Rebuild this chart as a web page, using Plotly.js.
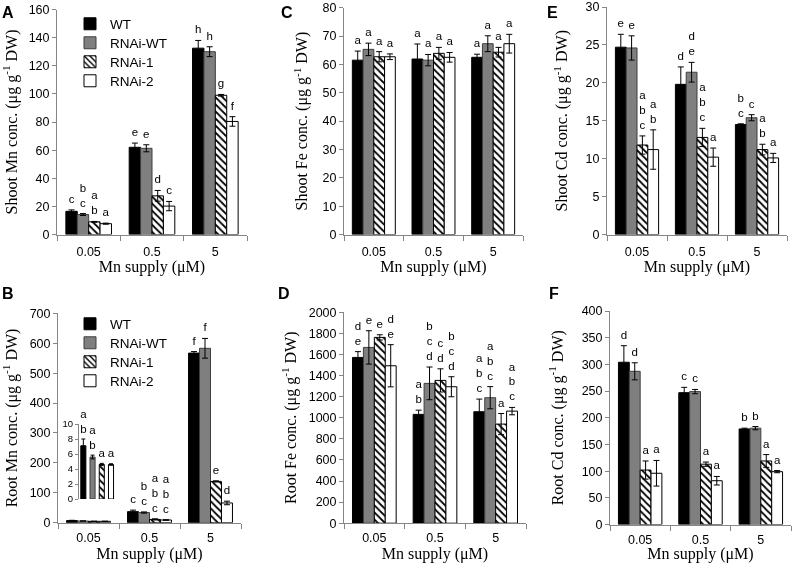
<!DOCTYPE html>
<html>
<head>
<meta charset="utf-8">
<script src="https://cdn.plot.ly/plotly-3.0.1.min.js"></script>
<style>html,body{margin:0;padding:0;background:#fff}#chart{width:793px;height:563px;filter:grayscale(100%)}</style>
</head>
<body>
<div id="chart"></div>
<script>
// ---------------- DATA ----------------
const supply = ['0.05', '0.5', '5'];            // Mn supply (µM)
const genotypes = ['WT', 'RNAi-WT', 'RNAi-1', 'RNAi-2'];

// A  Shoot Mn  (rows = genotypes, columns = supply)
const shootMnMean = [[16.5, 62.0, 132.5], [14.2, 61.3, 130.0], [9.0, 27.5, 99.0], [7.7, 20.2, 80.4]];
const shootMnErr  = [[1.0, 3.0, 5.5], [0.7, 2.5, 3.5], [0.3, 3.8, 0.6], [0.4, 3.3, 3.4]];
const shootMnSig  = [['c', 'e', 'h'], ['b<br>c', 'e', 'h'], ['a<br>b', 'd', 'g'], ['a', 'c', 'f']];

// B  Root Mn
const rootMnMean = [[7.1, 37, 567], [5.6, 34, 583], [4.6, 11, 138], [4.6, 9, 66]];
const rootMnErr  = [[0.9, 5, 5], [0.25, 2, 33], [0.15, 2, 2], [0.1, 1, 6]];
const rootMnSig  = [['a<br>b', 'c', 'f'], ['a<br>b', 'b<br>c', 'f'], ['a', 'a<br>b<br>c', 'e'], ['a', 'a<br>b<br>c', 'd']];

// C  Shoot Fe
const shootFeMean = [[61.5, 61.9, 62.5], [65.3, 61.5, 67.3], [62.7, 63.9, 64.3], [62.7, 62.5, 67.3]];
const shootFeErr  = [[3.2, 5.3, 1.1], [2.2, 2.0, 2.8], [1.8, 2.1, 1.7], [1.0, 1.7, 3.3]];
const shootFeSig  = [['a', 'a', 'a'], ['a', 'a', 'a'], ['a', 'a', 'a'], ['a', 'a', 'a']];

// D  Root Fe
const rootFeMean = [[1572, 1032, 1057], [1667, 1326, 1190], [1762, 1354, 940], [1493, 1294, 1063]];
const rootFeErr  = [[55, 40, 120], [158, 155, 105], [25, 110, 100], [200, 95, 35]];
const rootFeSig  = [['d<br>e', 'a<br>b', 'a<br>b<br>c'], ['e', 'b<br>c<br>d', 'a<br>b<br>c'], ['e', 'c<br>d', 'a'], ['d<br>e', 'b<br>c<br>d', 'a<br>b<br>c']];

// E  Shoot Cd
const shootCdMean = [[24.7, 19.8, 14.5], [24.6, 21.4, 15.4], [11.8, 12.8, 11.2], [11.2, 10.2, 10.1]];
const shootCdErr  = [[1.7, 2.3, 0.1], [1.6, 1.3, 0.4], [1.2, 1.2, 0.7], [2.6, 1.2, 0.6]];
const shootCdSig  = [['e', 'd', 'b<br>c'], ['e', 'd<br>e', 'c'], ['a<br>b<br>c', 'a<br>b<br>c', 'a<br>b'], ['a<br>b', 'a', 'a']];

// F  Root Cd
const rootCdMean = [[304, 247, 179], [287, 249, 180.5], [102, 113, 119], [96, 82, 99]];
const rootCdErr  = [[31, 10, 1.5], [16, 4, 3], [17, 4, 12], [24, 8, 2]];
const rootCdSig  = [['d', 'c', 'b'], ['d', 'c', 'b'], ['a', 'a', 'a'], ['a', 'a', 'a']];

// ---------------- STYLE / LAYOUT ----------------
const W = 793, H = 563;
const SANS = 'Liberation Sans, Arial, sans-serif';
const SERIF = 'Liberation Serif, Times New Roman, serif';
const AXC = '#868686';
const barFill = ['#000000', '#7f7f7f', '#ffffff', '#ffffff'];
const barLine = ['#000000', '#3f3f3f', '#000000', '#000000'];
const BW = 0.18;

const xd = (a, b) => [a / W, b / W];
const yd = (top, bot) => [1 - bot / H, 1 - top / H];

const panels = [
  {n: 1, lab: 'A', mean: shootMnMean, err: shootMnErr, sig: shootMnSig, x: [57, 247], y: [9.5, 234.5], range: [0, 160], dtick: 20, title: 'Shoot Mn conc. (μg g<sup>-1</sup> DW)', legendRows: [24, 43, 62, 81], legendBase: 1, skipFirst: false, so: 8},
  {n: 2, lab: 'C', mean: shootFeMean, err: shootFeErr, sig: shootFeSig, x: [344, 523], y: [7.7, 234.5], range: [0, 80], dtick: 10, title: 'Shoot Fe conc. (μg g<sup>-1</sup> DW)', so: 10},
  {n: 3, lab: 'E', mean: shootCdMean, err: shootCdErr, sig: shootCdSig, x: [607, 787], y: [7, 234.5], range: [0, 30], dtick: 5, title: 'Shoot Cd conc. (μg g<sup>-1</sup> DW)', so: 13},
  {n: 4, lab: 'B', mean: rootMnMean, err: rootMnErr, sig: rootMnSig, x: [58, 241], y: [313.3, 522.7], range: [0, 700], dtick: 100, title: 'Root Mn conc. (μg g<sup>-1</sup> DW)', legendRows: [324, 343, 362, 381], legendBase: 5, skipFirst: true, so: 11},
  {n: 5, lab: 'D', mean: rootFeMean, err: rootFeErr, sig: rootFeSig, x: [344, 526], y: [312.3, 523.2], range: [0, 2000], dtick: 200, title: 'Root Fe conc. (μg g<sup>-1</sup> DW)', so: 8},
  {n: 6, lab: 'F', mean: rootCdMean, err: rootCdErr, sig: rootCdSig, x: [610, 791], y: [311, 524.5], range: [0, 400], dtick: 50, title: 'Root Cd conc. (μg g<sup>-1</sup> DW)', so: 14}
];
const panelLabelPos = {A: [8, 13], C: [287, 13], E: [552, 13], B: [8, 293], D: [284, 293], F: [554, 293]};

const traces = [];
const layout = {
  width: W, height: H, margin: {l: 0, r: 0, t: 0, b: 0},
  paper_bgcolor: '#fff', plot_bgcolor: 'rgba(0,0,0,0)',
  barmode: 'overlay', showlegend: true, hovermode: false,
  font: {family: SANS, color: '#000'},
  annotations: []
};

function barMarker(g) {
  const m = {color: barFill[g], line: {color: barLine[g], width: 1}};
  if (g === 2) m.pattern = {shape: '\\', fgcolor: '#000', bgcolor: '#fff', size: 5, solidity: 0.35};
  return m;
}
function legendId(k) { return k === 1 ? 'legend' : 'legend' + k; }

panels.forEach(p => {
  const xa = 'x' + p.n, ya = 'y' + p.n;
  for (let g = 0; g < 4; g++) {
    const xs = supply.map((s, c) => c + (g - 1.5) * BW);
    const bar = {
      type: 'bar', x: xs, y: p.mean[g], width: BW, xaxis: xa, yaxis: ya,
      name: genotypes[g], marker: barMarker(g),
      error_y: {type: 'data', array: p.err[g], visible: true, color: '#000', thickness: 1, width: 3},
      showlegend: false, hoverinfo: 'skip'
    };
    if (p.legendRows) {
      const id = legendId(p.legendBase + g);
      bar.showlegend = true;
      bar.legend = id;
      layout[id] = {
        x: 70 / W, y: 1 - p.legendRows[g] / H, xanchor: 'left', yanchor: 'middle',
        bgcolor: 'rgba(0,0,0,0)', borderwidth: 0, itemwidth: 30,
        font: {family: SANS, size: 13.5, color: '#000'}
      };
    }
    traces.push(bar);
    const idx = supply.map((s, c) => c).filter(c => !(p.skipFirst && c === 0));
    traces.push({
      type: 'scatter', mode: 'markers+text', xaxis: xa, yaxis: ya,
      x: idx.map(c => xs[c]), y: idx.map(c => p.mean[g][c] + p.err[g][c]),
      text: idx.map(c => p.sig[g][c]), textposition: 'top center',
      textfont: {family: SANS, size: 11.5, color: '#000000'},
      marker: {size: 5, color: 'rgba(0,0,0,0)'},
      cliponaxis: false, showlegend: false, hoverinfo: 'skip'
    });
  }
  const top = p.n <= 3;
  layout['xaxis' + p.n] = {
    domain: xd(p.x[0], p.x[1]), anchor: ya, range: [-0.5, 2.5],
    tickmode: 'array', tickvals: [0, 1, 2], ticktext: supply, ticks: '',
    ticklabelstandoff: top ? 5 : 3,
    minor: {tickmode: 'array', tickvals: [-0.5, 0.5, 1.5, 2.5], ticks: 'outside', ticklen: 5, tickcolor: AXC, tickwidth: 1},
    showline: true, linecolor: AXC, linewidth: 1, showgrid: false, zeroline: false, fixedrange: true,
    tickfont: {family: SANS, size: 12.5, color: '#000'},
    title: {text: 'Mn supply (μM)', font: {family: SERIF, size: 16, color: '#000'}, standoff: 0}
  };
  layout['yaxis' + p.n] = {
    domain: yd(p.y[0], p.y[1]), anchor: xa, range: p.range, dtick: p.dtick, tick0: 0,
    ticks: 'outside', ticklen: 4, tickcolor: AXC, tickwidth: 1,
    showline: true, linecolor: AXC, linewidth: 1, showgrid: false, zeroline: false, fixedrange: true,
    tickfont: {family: SANS, size: 12.5, color: '#000'},
    title: {text: p.title, font: {family: SERIF, size: 16, color: '#000'}, standoff: p.so}
  };
  const lp = panelLabelPos[p.lab];
  layout.annotations.push({
    text: '<b>' + p.lab + '</b>', xref: 'paper', yref: 'paper', x: lp[0] / W, y: 1 - lp[1] / H,
    xanchor: 'center', yanchor: 'middle', showarrow: false, font: {family: SANS, size: 16, color: '#000'}
  });
});

// Inset in panel B: root Mn at 0.05 µM
for (let g = 0; g < 4; g++) {
  traces.push({
    type: 'bar', x: [g - 1.5], y: [rootMnMean[g][0]], width: 0.55, xaxis: 'x7', yaxis: 'y7',
    marker: barMarker(g), showlegend: false, hoverinfo: 'skip',
    error_y: {type: 'data', array: [rootMnErr[g][0]], visible: true, color: '#000', thickness: 1, width: 2}
  });
  traces.push({
    type: 'scatter', mode: 'markers+text', xaxis: 'x7', yaxis: 'y7',
    x: [g - 1.5], y: [rootMnMean[g][0] + rootMnErr[g][0]], text: [rootMnSig[g][0]],
    textposition: 'top center', textfont: {family: SANS, size: 11.5, color: '#000000'},
    marker: {size: 4, color: 'rgba(0,0,0,0)'}, cliponaxis: false, showlegend: false, hoverinfo: 'skip'
  });
}
layout.xaxis7 = {domain: xd(79, 117), anchor: 'y7', range: [-1.97, 2.15], visible: false, fixedrange: true};
layout.yaxis7 = {
  domain: yd(424, 499), anchor: 'x7', range: [0, 10], dtick: 2, tick0: 0,
  ticks: 'outside', ticklen: 3, tickcolor: AXC, showline: true, linecolor: AXC, linewidth: 1,
  showgrid: false, zeroline: false, fixedrange: true, tickfont: {family: SANS, size: 9.5, color: '#000'}
};

Plotly.newPlot('chart', traces, layout, {staticPlot: true, displayModeBar: false});
</script>
</body>
</html>
